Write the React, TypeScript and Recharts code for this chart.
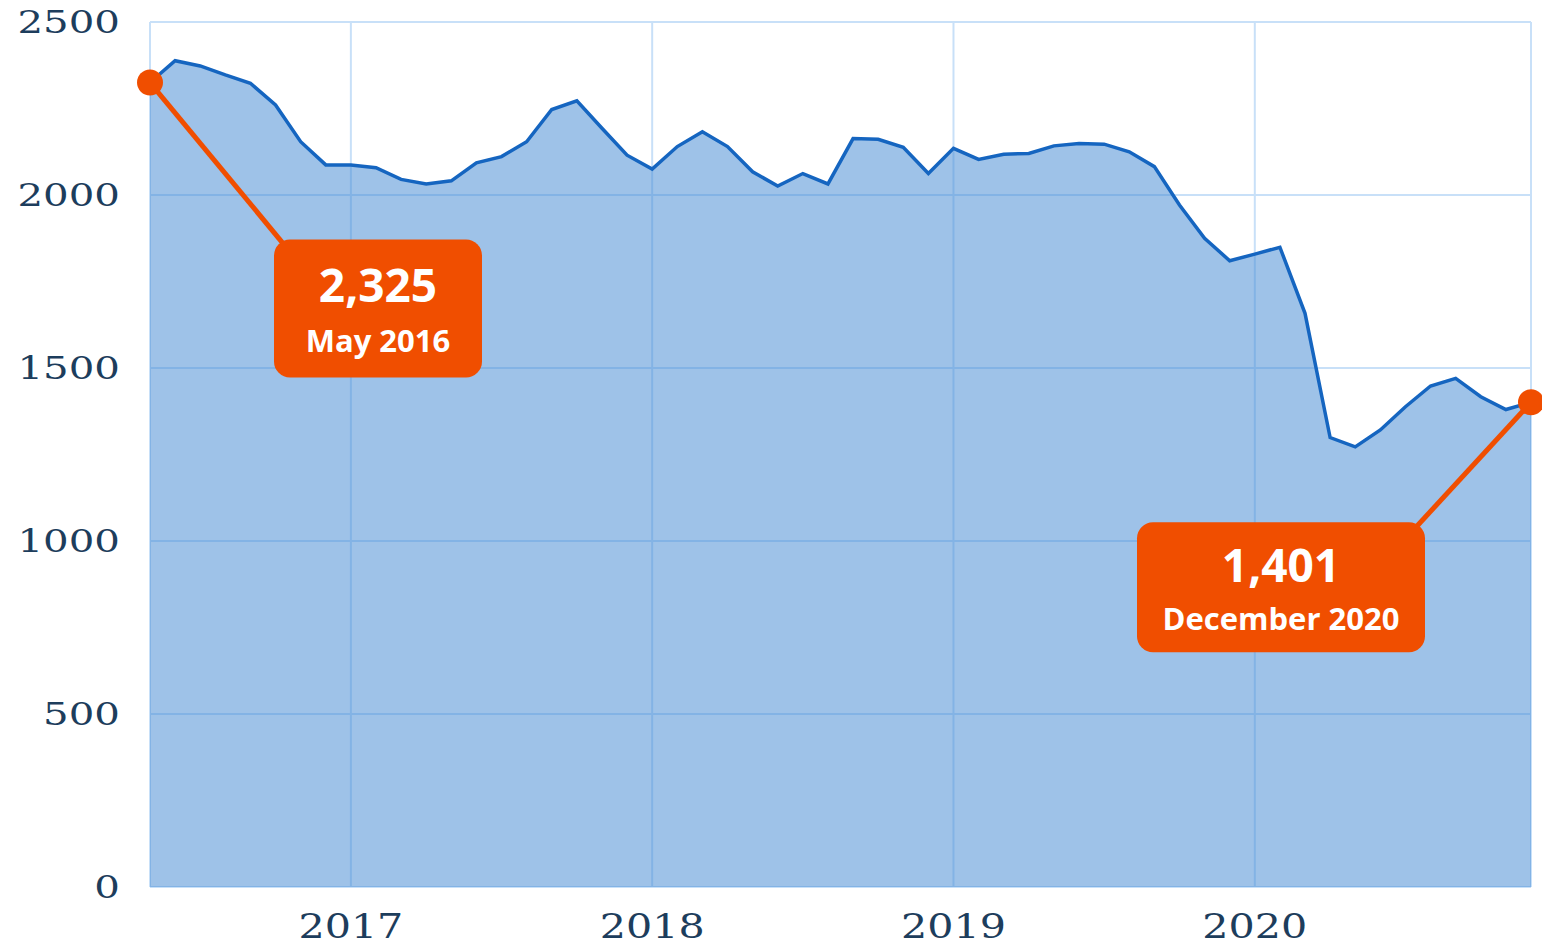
import { AreaChart, Area, XAxis, YAxis, CartesianGrid } from 'recharts'

const MONTHS = [
  'May 2016', 'Jun 2016', 'Jul 2016', 'Aug 2016', 'Sep 2016', 'Oct 2016', 'Nov 2016', 'Dec 2016',
  'Jan 2017', 'Feb 2017', 'Mar 2017', 'Apr 2017', 'May 2017', 'Jun 2017', 'Jul 2017', 'Aug 2017',
  'Sep 2017', 'Oct 2017', 'Nov 2017', 'Dec 2017',
  'Jan 2018', 'Feb 2018', 'Mar 2018', 'Apr 2018', 'May 2018', 'Jun 2018', 'Jul 2018', 'Aug 2018',
  'Sep 2018', 'Oct 2018', 'Nov 2018', 'Dec 2018',
  'Jan 2019', 'Feb 2019', 'Mar 2019', 'Apr 2019', 'May 2019', 'Jun 2019', 'Jul 2019', 'Aug 2019',
  'Sep 2019', 'Oct 2019', 'Nov 2019', 'Dec 2019',
  'Jan 2020', 'Feb 2020', 'Mar 2020', 'Apr 2020', 'May 2020', 'Jun 2020', 'Jul 2020', 'Aug 2020',
  'Sep 2020', 'Oct 2020', 'Nov 2020', 'Dec 2020',
]

const VALUES = [
  2325, 2388, 2373, 2347, 2323, 2260, 2154, 2087,
  2087, 2079, 2045, 2032, 2041, 2093, 2111, 2154,
  2247, 2272, 2193, 2115,
  2075, 2140, 2183, 2140, 2067, 2026, 2062, 2032,
  2163, 2161, 2138, 2062,
  2135, 2103, 2118, 2120, 2142, 2149, 2147, 2125,
  2082, 1971, 1875, 1810,
  1829, 1849, 1658, 1299, 1272, 1321, 1388, 1448,
  1470, 1417, 1380, 1401,
]

const X_TICKS = ['Jan 2017', 'Jan 2018', 'Jan 2019', 'Jan 2020']
const Y_TICKS = [0, 500, 1000, 1500, 2000, 2500]

const data = MONTHS.map((month, i) => ({ month, value: VALUES[i] }))

const ORANGE = '#f04e00'
const AXIS_TEXT = '#1d3d5c'
const SERIF = '"DejaVu Serif", "Liberation Serif", serif'
const SANS = '"Open Sans", "Noto Sans", sans-serif'

function YTick({ x, y, payload }: any) {
  return (
    <g transform={`translate(${x},${y})`}>
      <text transform="scale(1.3,1)" textAnchor="end" dy="0.35em" fill={AXIS_TEXT} fontFamily={SERIF} fontSize={31}>
        {payload.value}
      </text>
    </g>
  )
}

function XTick({ x, y, payload }: any) {
  return (
    <g transform={`translate(${x},${y})`}>
      <text transform="scale(1.25,1)" textAnchor="middle" y={43} fill={AXIS_TEXT} fontFamily={SERIF} fontSize={33}>
        {String(payload.value).slice(4)}
      </text>
    </g>
  )
}

function Callout({ cx, cy, side, value, label }: any) {
  // first point: box sits down-right of the dot, last point: down-left
  const first = side === 'first'
  const box = first
    ? { x: cx + 124, y: cy + 157, w: 208, h: 138 }
    : { x: cx - 394, y: cy + 120, w: 288, h: 130 }
  const end = first ? { x: cx + 134, y: cy + 162 } : { x: cx - 116, y: cy + 126 }
  const tx = box.x + box.w / 2
  return (
    <g>
      <line x1={cx} y1={cy} x2={end.x} y2={end.y} stroke={ORANGE} strokeWidth={5} />
      <circle cx={cx} cy={cy} r={13} fill={ORANGE} />
      <rect x={box.x} y={box.y} width={box.w} height={box.h} rx={16} ry={16} fill={ORANGE} />
      <text x={tx} y={box.y + (first ? 62 : 60)} textAnchor="middle" fill="#fff" fontFamily={SANS} fontWeight={700} fontSize={46}>
        {value}
      </text>
      <text x={tx} y={box.y + (first ? 112 : 108)} textAnchor="middle" fill="#fff" fontFamily={SANS} fontWeight={700} fontSize={31}>
        {label}
      </text>
    </g>
  )
}

function renderDot(props: any) {
  const { cx, cy, index, payload } = props
  const last = VALUES.length - 1
  if (index !== 0 && index !== last) return <g key={`d-${index}`} />
  return (
    <Callout
      key={`d-${index}`}
      cx={cx}
      cy={cy}
      side={index === 0 ? 'first' : 'last'}
      value={payload.value.toLocaleString('en-US')}
      label={index === 0 ? 'May 2016' : 'December 2020'}
    />
  )
}

export default function App() {
  return (
    <div style={{ position: 'absolute', left: 0, top: 0, background: '#fff' }}>
      <AreaChart width={1542} height={949} data={data} margin={{ top: 22, right: 11, left: 0, bottom: 0 }}>
        <CartesianGrid stroke="#c8e0f8" strokeWidth={2} />
        <XAxis
          dataKey="month"
          ticks={X_TICKS}
          interval={0}
          axisLine={false}
          tickLine={false}
          height={62}
          tick={<XTick />}
        />
        <YAxis
          domain={[0, 2500]}
          ticks={Y_TICKS}
          axisLine={false}
          tickLine={false}
          width={150}
          tickMargin={24}
          tick={<YTick />}
        />
        <Area
          type="linear"
          dataKey="value"
          stroke="#1565c0"
          strokeWidth={3.5}
          fill="#3d86d1"
          fillOpacity={0.5}
          dot={renderDot}
          activeDot={false}
          isAnimationActive={false}
        />
      </AreaChart>
    </div>
  )
}
